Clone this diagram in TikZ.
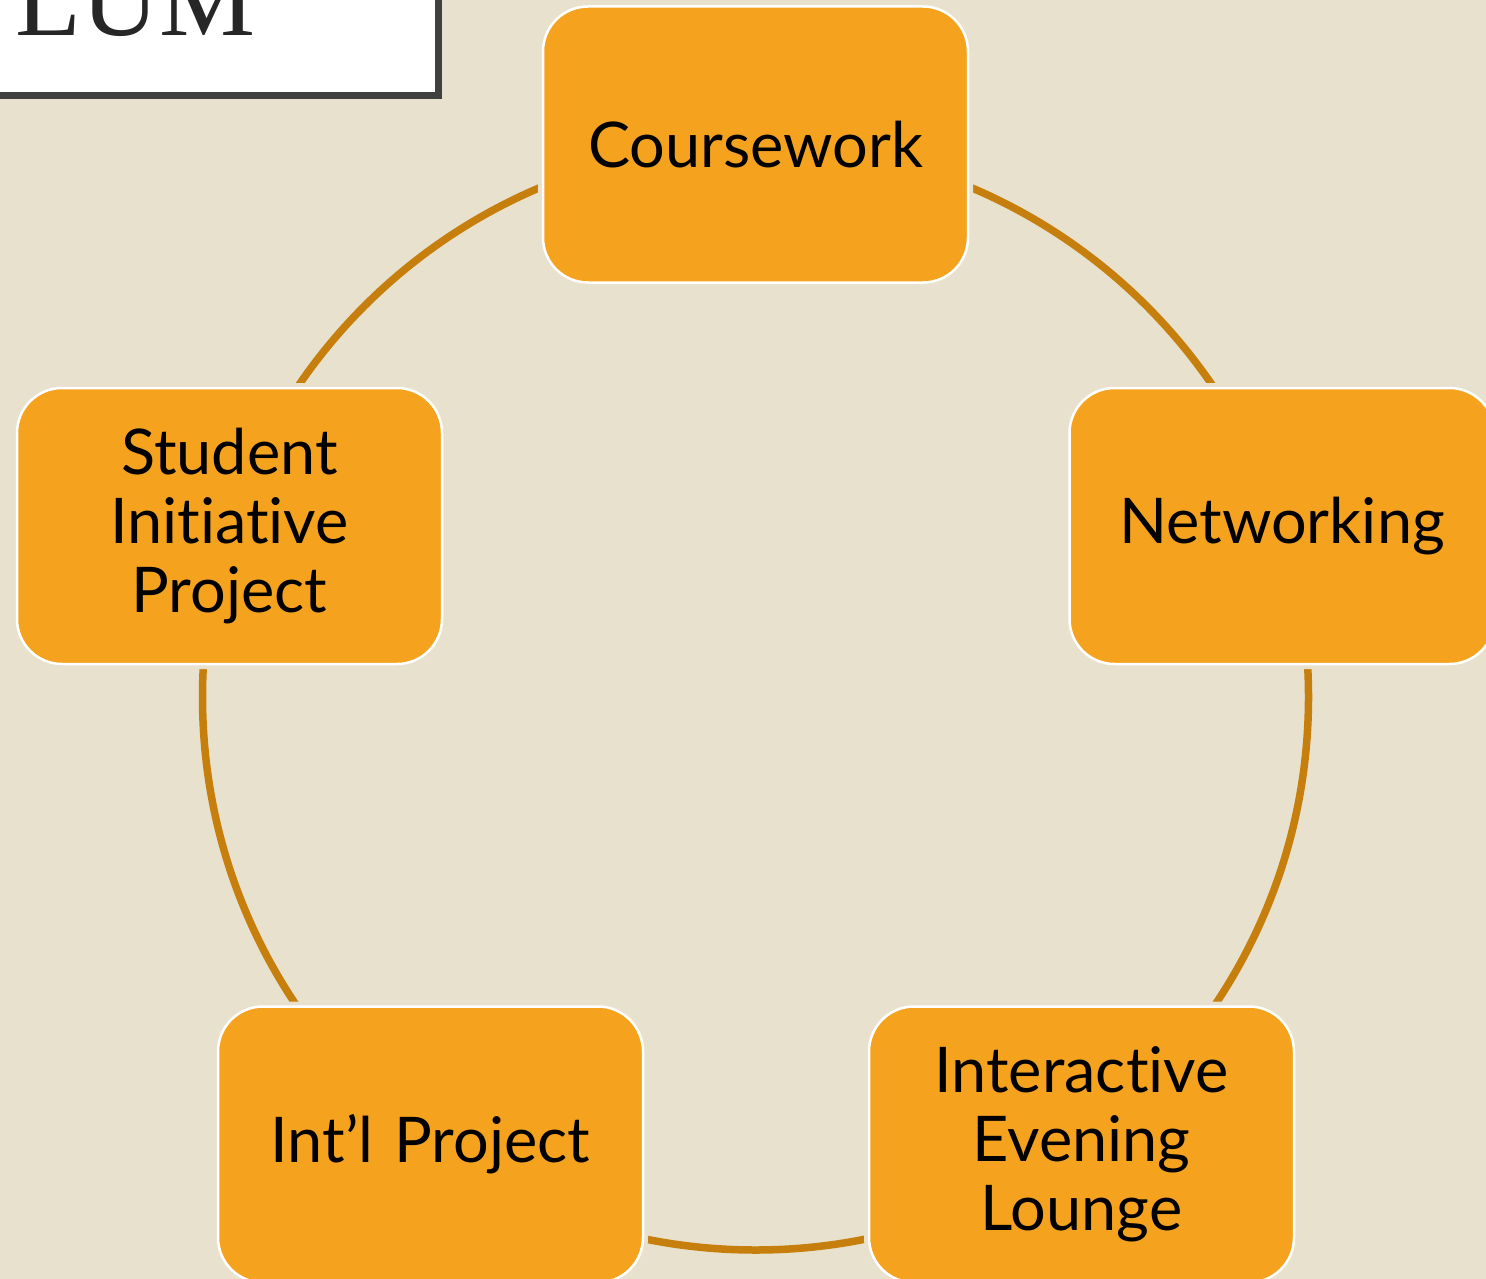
\documentclass[tikz,border=0pt]{standalone}
\usepackage{fontspec}
\setmainfont{Lato}[Ligatures=NoCommon]
\newfontfamily\titlefont{Liberation Serif}
\definecolor{bgbeige}{HTML}{E7E1CE}
\definecolor{boxorange}{HTML}{F5A31F}
\definecolor{arcbrown}{HTML}{C67F0C}
\definecolor{framegray}{HTML}{404040}
\tikzset{
  cyclebox/.style={draw=white, line width=2.5pt, fill=boxorange, rounded corners=45pt,
    preaction={draw=bgbeige, line width=10pt},
    minimum width=425pt, minimum height=276pt, inner sep=0pt, align=center,
    text width=400pt, font=\fontsize{63}{69}\selectfont, text=black},
  cyclearc/.style={draw=arcbrown, line width=7.5pt}
}
\begin{document}
\begin{tikzpicture}[x=1pt,y=-1pt]
\useasboundingbox (0,0) rectangle (1486,1279);
\clip (0,0) rectangle (1486,1279);
\fill[bgbeige] (0,0) rectangle (1486,1279);
% title box
\draw[fill=white, draw=framegray, line width=6.5pt] (-20,-20) rectangle (438.5,95.5);
\node[anchor=base west, inner sep=0pt, font=\titlefont\fontsize{108}{114}\selectfont, text=black!85] (title) at (15,36) {LUM};
% cycle
\coordinate (center) at (755.5,697);
\draw[cyclearc] (center) circle[radius=553pt];
\node[cyclebox] (course) at (755.5,144.5) {Coursework};
\node[cyclebox] (network) at (1282,526) {Networking};
\node[cyclebox] (lounge) at (1081.5,1144.5) {Interactive\\Evening\\Lounge};
\node[cyclebox] (intl) at (430.5,1144.5) {Int’l Project};
\node[cyclebox] (student) at (229.5,526) {Student\\Initiative\\Project};
\end{tikzpicture}
\end{document}
